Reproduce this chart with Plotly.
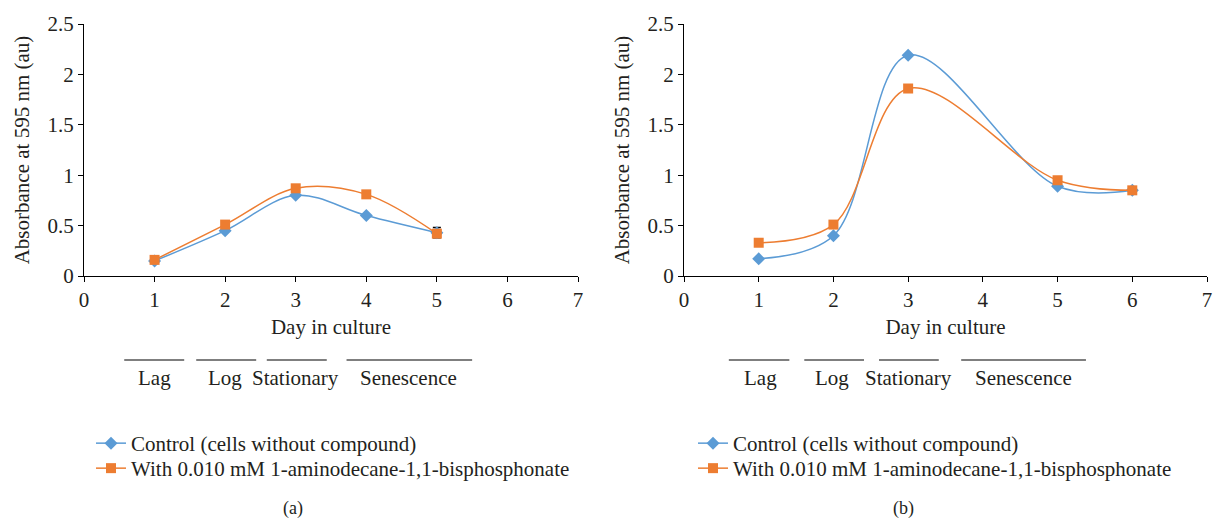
import plotly.graph_objects as go
from plotly.subplots import make_subplots

# ---- data ----
days_a = [1, 2, 3, 4, 5]
control_a = [0.15, 0.45, 0.80, 0.60, 0.43]
control_a_err = [None, None, None, None, 0.05]
treated_a = [0.16, 0.51, 0.87, 0.81, 0.42]

days_b = [1, 2, 3, 5, 6]
control_b = [0.17, 0.40, 2.19, 0.89, 0.85]
treated_b = [0.33, 0.51, 1.86, 0.95, 0.85]

series_names = ["Control (cells without compound)",
                "With 0.010 mM 1-aminodecane-1,1-bisphosphonate"]

phase_names = ["Lag", "Log", "Stationary", "Senescence"]
phase_spans_a = [(0.57, 1.42), (1.59, 2.44), (2.59, 3.44), (3.72, 5.5)]
phase_label_day_a = [1.0, 2.0, 3.0, 4.6]
phase_spans_b = [(0.60, 1.41), (1.61, 2.41), (2.61, 3.41), (3.71, 5.38)]
phase_label_day_b = [1.02, 1.98, 3.01, 4.54]

y_tick_vals = [0, 0.5, 1, 1.5, 2, 2.5]
y_tick_text = ["0", "0.5", "1", "1.5", "2", "2.5"]
x_tick_vals = [0, 1, 2, 3, 4, 5, 6, 7]

panel_labels = ["(a)", "(b)"]
x_title = "Day in culture"
y_title = "Absorbance at 595 nm (au)"

# ---- style ----
BLUE = "#5B9BD5"
ORANGE = "#ED7D31"
TXT = "#231F20"
FONT = "Liberation Serif"
FS = 21

W, H = 1215, 521
fig = make_subplots(rows=1, cols=2)

def add_pair(days, ctrl, trt, col, legends, err=None):
    ctrl_kw = {}
    if err is not None:
        ctrl_kw["error_y"] = dict(type="data", array=err, visible=True,
                                  color="black", thickness=1.5, width=4)
    fig.add_trace(go.Scatter(x=days, y=ctrl, mode="lines+markers",
                             name=series_names[0], legend=legends[0],
                             line=dict(color=BLUE, width=1.5, shape="spline"),
                             marker=dict(symbol="diamond", size=10, color=BLUE),
                             **ctrl_kw), row=1, col=col)
    fig.add_trace(go.Scatter(x=days, y=trt, mode="lines+markers",
                             name=series_names[1], legend=legends[1],
                             line=dict(color=ORANGE, width=1.5, shape="spline"),
                             marker=dict(symbol="square", size=10, color=ORANGE)),
                  row=1, col=col)

add_pair(days_a, control_a, treated_a, 1, ("legend", "legend2"), control_a_err)
add_pair(days_b, control_b, treated_b, 2, ("legend3", "legend4"))

ydom = [1 - 276 / H, 1 - 24 / H]
axis_common = dict(showgrid=False, zeroline=False, showline=True,
                   linecolor="black", linewidth=1, ticks="outside",
                   ticklen=5, tickcolor="black", automargin=False,
                   tickfont=dict(family=FONT, size=FS, color=TXT))
fig.update_xaxes(range=[0, 7], tickvals=x_tick_vals, **axis_common,
                 title=dict(text=x_title, standoff=8,
                            font=dict(family=FONT, size=FS, color=TXT)))
fig.update_yaxes(range=[0, 2.5], tickvals=y_tick_vals, ticktext=y_tick_text,
                 domain=ydom, **axis_common,
                 title=dict(text=y_title, standoff=12,
                            font=dict(family=FONT, size=FS, color=TXT)))
fig.update_layout(
    xaxis=dict(domain=[84 / W, 578 / W]),
    xaxis2=dict(domain=[684 / W, 1207 / W]),
)

# phase bars + labels
line_y = 1 - 360 / H
lab_y = 1 - 378 / H
for xref, spans, labs in (("x", phase_spans_a, phase_label_day_a),
                          ("x2", phase_spans_b, phase_label_day_b)):
    for name, (s, e), lx in zip(phase_names, spans, labs):
        fig.add_shape(type="line", xref=xref, yref="paper", x0=s, x1=e,
                      y0=line_y, y1=line_y, line=dict(color="black", width=1.2))
        fig.add_annotation(xref=xref, yref="paper", x=lx, y=lab_y, text=name,
                           showarrow=False, xanchor="center", yanchor="middle",
                           font=dict(family=FONT, size=FS, color=TXT))

for lbl, px in zip(panel_labels, [293, 903]):
    fig.add_annotation(xref="paper", yref="paper", x=px / W, y=1 - 508 / H,
                       text=lbl, showarrow=False, xanchor="center",
                       yanchor="middle",
                       font=dict(family=FONT, size=18, color=TXT))

def leg(px, py):
    return dict(orientation="v", xanchor="left", yanchor="top",
                x=px / W, y=1 - py / H, bgcolor="rgba(0,0,0,0)",
                font=dict(family=FONT, size=FS, color=TXT), itemwidth=30)

fig.update_layout(
    width=W, height=H,
    margin=dict(l=0, r=0, t=0, b=0, autoexpand=False),
    paper_bgcolor="white", plot_bgcolor="white",
    legend=leg(91, 423), legend2=leg(91, 448),
    legend3=leg(693, 423), legend4=leg(693, 448),
    showlegend=True,
)

fig.write_html("out.html")
